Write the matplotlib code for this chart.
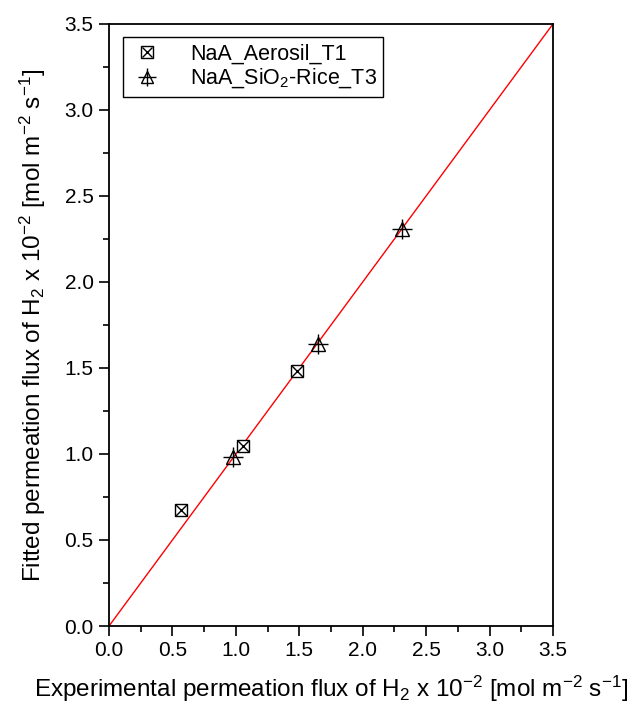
import matplotlib
matplotlib.use("Agg")
import matplotlib.pyplot as plt
from matplotlib.ticker import MultipleLocator
from matplotlib.legend_handler import HandlerTuple
from matplotlib.lines import Line2D

plt.rcParams['font.family'] = ['Liberation Sans', 'DejaVu Sans']
plt.rcParams['mathtext.default'] = 'regular'

aerosil_x = [0.566, 1.054, 1.479]
aerosil_y = [0.673, 1.045, 1.480]
rice_x = [0.98, 1.644, 2.31]
rice_y = [0.98, 1.637, 2.31]
fit_x = [0.0, 3.5]
fit_y = [0.0, 3.5]

fig = plt.figure(figsize=(6.32, 7.10), dpi=100)
ax = fig.add_axes([0.1725, 0.1183, 0.7025, 0.848])

ax.plot(fit_x, fit_y, color='red', lw=1.0, zorder=1)
ax.plot(aerosil_x, aerosil_y, ls='none', marker='s', ms=9, mfc='white', mec='black', mew=1.0, zorder=3)
ax.plot(aerosil_x, aerosil_y, ls='none', marker='x', ms=8, mec='black', mew=1.0, zorder=4)
ax.plot(rice_x, rice_y, ls='none', marker='^', ms=10, mfc='none', mec='black', mew=1.0, zorder=3)
ax.plot(rice_x, rice_y, ls='none', marker='+', ms=14, mec='black', mew=1.0, zorder=4)

ax.set_xlim(0, 3.5)
ax.set_ylim(0, 3.5)
ax.xaxis.set_major_locator(MultipleLocator(0.5))
ax.yaxis.set_major_locator(MultipleLocator(0.5))
ax.xaxis.set_minor_locator(MultipleLocator(0.25))
ax.yaxis.set_minor_locator(MultipleLocator(0.25))
ax.xaxis.set_major_formatter(plt.FormatStrFormatter('%.1f'))
ax.yaxis.set_major_formatter(plt.FormatStrFormatter('%.1f'))
ax.tick_params(which='major', direction='out', length=7, width=1.2, labelsize=15, pad=4)
ax.tick_params(which='minor', direction='out', length=4, width=1.2)
for s in ax.spines.values():
    s.set_linewidth(1.3)

ax.set_xlabel('Experimental permeation flux of H$_2$ x 10$^{-2}$ [mol m$^{-2}$ s$^{-1}$]', fontsize=17.5, labelpad=10)
ax.set_ylabel('Fitted permeation flux of H$_2$ x 10$^{-2}$ [mol m$^{-2}$ s$^{-1}$]', fontsize=17.5, labelpad=12)

h1 = (Line2D([], [], ls='none', marker='s', ms=8, mfc='white', mec='black', mew=1.0),
      Line2D([], [], ls='none', marker='x', ms=7, mec='black', mew=1.0))
h2 = (Line2D([], [], ls='none', marker='^', ms=9, mfc='none', mec='black', mew=1.0),
      Line2D([], [], ls='none', marker='+', ms=13, mec='black', mew=1.0))
leg = ax.legend([h1, h2], ['NaA_Aerosil_T1', 'NaA_SiO$_2$-Rice_T3'],
                handler_map={tuple: HandlerTuple(ndivide=1, pad=0)},
                loc='upper left', bbox_to_anchor=(0.032, 0.978), borderaxespad=0,
                fontsize=15.5,
                frameon=True, fancybox=False, edgecolor='black', framealpha=1,
                handlelength=1.6, handletextpad=1.2, borderpad=0.3, labelspacing=0.1)
leg.get_frame().set_linewidth(1.0)

fig.savefig('out.png', dpi=100)
